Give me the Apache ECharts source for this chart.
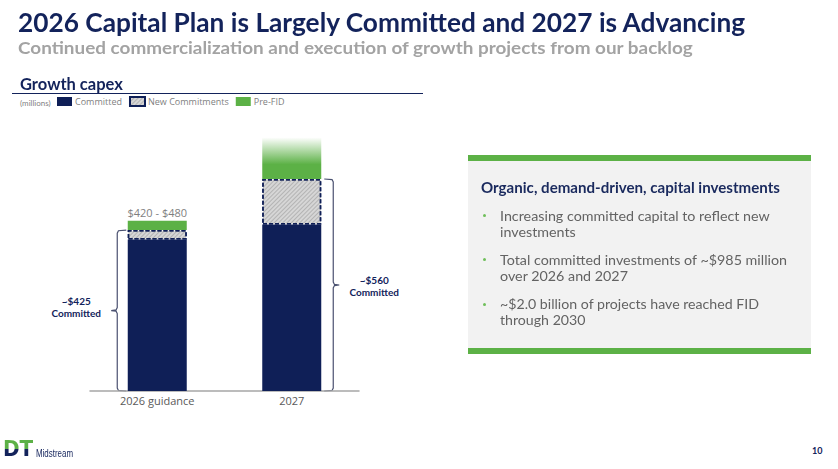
<!DOCTYPE html>
<html>
<head>
<meta charset="UTF-8">
<title>Growth capex</title>
<script src="https://cdn.jsdelivr.net/npm/echarts@6/dist/echarts.min.js"></script>
<style>
  body{margin:0;width:838px;height:469px;overflow:hidden;background:#fff;position:relative;font-family:Lato,'Open Sans',sans-serif;}
  #chart{position:absolute;left:0;top:0;width:838px;height:469px;}
  .fit{position:absolute;white-space:nowrap;line-height:1;transform-origin:0 0;}
  .t-title{font-size:26px;font-weight:700;color:#13235b;}
  .t-sub{font-size:17.5px;font-weight:700;color:#a3a3a3;}
  .t-growth{font-size:17px;font-weight:700;color:#13235b;}
  .t-head{font-size:15px;font-weight:700;color:#1a2a5e;}
  .t-body{font-size:13.5px;line-height:16.5px;color:#636363;}
  #rule{position:absolute;left:12px;top:93px;width:411px;height:1px;background:#13235b;}
  #millions{position:absolute;left:20px;top:99px;font-size:8px;line-height:1;color:#7f7f7f;}
  #panel{position:absolute;left:468px;top:155px;width:343px;height:199px;background:#f2f2f2;border-top:6px solid #5cb146;border-bottom:6px solid #5cb146;box-sizing:border-box;}
  .dot{position:absolute;left:483px;width:3px;height:3px;border-radius:50%;background:#6fbf5a;}
  .logo{font-family:'DejaVu Sans',sans-serif;font-weight:700;font-size:22px;color:transparent;
        background:linear-gradient(to bottom,#5cb146 0,#5cb146 50%,#13235b 50%,#13235b 100%);
        -webkit-background-clip:text;background-clip:text;}
  .mid{font-family:'Liberation Sans','DejaVu Sans',sans-serif;font-size:10.5px;color:#13235b;}
  .pg{font-size:9px;font-weight:700;color:#13235b;}
</style>
</head>
<body>
<div id="chart"></div>

<div class="fit t-title" data-x="18" data-b="32" data-w="727">2026 Capital Plan is Largely Committed and 2027 is Advancing</div>
<div class="fit t-sub" data-x="18" data-b="55" data-w="675">Continued commercialization and execution of growth projects from our backlog</div>
<div class="fit t-growth" data-x="20" data-b="90" data-w="103">Growth capex</div>
<div id="rule"></div>
<div id="millions">(millions)</div>

<div id="panel"></div>
<div class="fit t-head" data-x="481" data-b="193" data-w="299">Organic, demand-driven, capital investments</div>
<div class="dot" style="top:214px"></div>
<div class="fit t-body" data-x="500" data-b="221" data-w="270" data-lh="16.5">Increasing committed capital to reflect new<br>investments</div>
<div class="dot" style="top:258px"></div>
<div class="fit t-body" data-x="500" data-b="265" data-w="287" data-lh="16.5">Total committed investments of ~$985 million<br>over 2026 and 2027</div>
<div class="dot" style="top:303px"></div>
<div class="fit t-body" data-x="500" data-b="309" data-w="259" data-lh="16.5">~$2.0 billion of projects have reached FID<br>through 2030</div>

<div class="fit logo" data-x="3" data-b="457" data-w="30" data-a="0.846">DT</div>
<div class="fit mid" data-x="36" data-b="457" data-w="37" data-a="0.846">Midstream</div>
<div class="fit pg" data-x="812" data-b="454" data-w="10">10</div>

<script type="text/javascript">
  // values in $ millions
  var categories = ['2026 guidance', '2027'];
  var committed = [400, 440];
  var newCommitments = [25, 120];
  var preFid = [25, 110];
  var topLabels = ['$420 - $480', ''];
  var bracketLabels = ['~$425\nCommitted', '~$560\nCommitted'];

  var navy = '#0f1f57',
      green = '#5cb146',
      barWidth = 59;

  // place html text by left edge, first baseline and width
  var lines = document.querySelectorAll('.fit');
  for (var i = 0; i < lines.length; i++) {
    var el = lines[i],
        fs = parseFloat(getComputedStyle(el).fontSize),
        asc = parseFloat(el.getAttribute('data-a') || 0.887),
        lh = parseFloat(el.getAttribute('data-lh') || fs);
    el.style.left = el.getAttribute('data-x') + 'px';
    el.style.top = (parseFloat(el.getAttribute('data-b')) - asc * fs - (lh - fs) / 2) + 'px';
    el.style.transform = 'scaleX(' + (parseFloat(el.getAttribute('data-w')) / el.offsetWidth) + ')';
  }

  var chart = echarts.init(document.getElementById('chart'), null, {renderer: 'svg'});

  var fadeGreen = new echarts.graphic.LinearGradient(0, 0, 0, 1, [
    {offset: 0, color: 'rgba(92,177,70,0)'},
    {offset: 0.65, color: green},
    {offset: 1, color: green}
  ]);

  chart.setOption({
    animation: false,
    textStyle: {fontFamily: 'Open Sans'},
    legend: {
      left: 57,
      top: 96,
      padding: 0,
      icon: 'rect',
      itemWidth: 15,
      itemHeight: 9,
      itemGap: 7,
      textStyle: {color: '#7f7f7f', fontSize: 9, padding: [0, 0, 0, -2]},
      data: ['Committed', 'New Commitments', 'Pre-FID']
    },
    grid: {left: 90, right: 479, top: 126, bottom: 78},
    xAxis: {
      type: 'category',
      data: categories,
      axisLine: {lineStyle: {color: '#a6a6a6', width: 1.5}},
      axisTick: {show: false},
      axisLabel: {color: '#595959', fontSize: 11, margin: 4}
    },
    yAxis: {type: 'value', min: 0, max: 700, show: false},
    series: [
      {
        name: 'Committed',
        type: 'bar',
        stack: 'capex',
        barWidth: barWidth,
        data: committed,
        itemStyle: {color: navy}
      },
      {
        name: 'New Commitments',
        type: 'bar',
        stack: 'capex',
        data: newCommitments,
        itemStyle: {
          color: '#d6d6d6',
          borderColor: navy,
          borderWidth: 1.5,
          borderType: [4, 2],
          decal: {
            symbol: 'rect',
            symbolSize: 1,
            dashArrayX: [[1, 0]],
            dashArrayY: [1, 2],
            rotation: -Math.PI / 4,
            color: 'rgba(150,150,150,0.55)'
          }
        }
      },
      {
        name: 'Pre-FID',
        type: 'bar',
        stack: 'capex',
        data: preFid.map(function (v, i) {
          return i === 1 ? {value: v, itemStyle: {color: fadeGreen}} : v;
        }),
        itemStyle: {color: green},
        label: {
          show: true,
          position: 'top',
          distance: 3,
          color: '#7f7f7f',
          fontSize: 11,
          formatter: function (p) { return topLabels[p.dataIndex]; }
        }
      }
    ]
  });

  // brackets around committed + new commitments
  var extras = [];
  categories.forEach(function (c, i) {
    var top = chart.convertToPixel({seriesIndex: 0}, [i, committed[i] + newCommitments[i]]),
        base = chart.convertToPixel({seriesIndex: 0}, [i, 0]),
        dir = i === 0 ? -1 : 1,
        x = base[0] + dir * (barWidth / 2 + (i === 0 ? 10.5 : 12)),
        y0 = top[1], y1 = base[1], ym = (y0 + y1) / 2,
        hook = 9, tick = 6;
    extras.push({
      type: 'polyline',
      shape: {
        points: [
          [x - dir * hook, y0], [x - dir * 1.2, y0 + 0.6], [x, y0 + 3],
          [x, ym - 3], [x + dir * 1.2, ym - 0.6], [x + dir * tick, ym],
          [x + dir * 1.2, ym + 0.6], [x, ym + 3],
          [x, y1 - 3], [x - dir * 1.2, y1 - 0.6], [x - dir * hook, y1]
        ]
      },
      style: {fill: 'none', stroke: '#4a5170', lineWidth: 1.2}
    });
    extras.push({
      type: 'text',
      x: x + dir * 41,
      y: ym + (i === 0 ? -4 : 1),
      style: {
        text: bracketLabels[i],
        fill: '#13235b',
        font: 'bold 10px Lato',
        align: 'center',
        verticalAlign: 'middle',
        lineHeight: 12
      }
    });
  });
  chart.setOption({graphic: extras});
</script>
</body>
</html>
